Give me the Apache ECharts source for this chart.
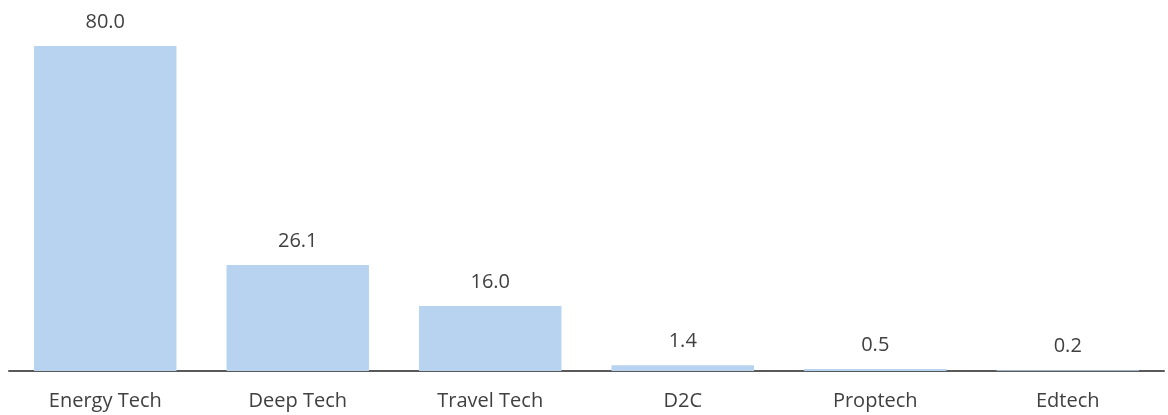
<!DOCTYPE html>
<html>
<head>
  <meta charset="utf-8" />
  <title>Funding by sector</title>
  <style>
    html, body { margin: 0; padding: 0; background: #fff; }
    #main { width: 1168px; height: 415px; }
  </style>
</head>
<body>
  <div id="main"></div>
  <script src="https://cdn.jsdelivr.net/npm/echarts@6/dist/echarts.min.js"></script>
  <script>
    var categories = ['Energy Tech', 'Deep Tech', 'Travel Tech', 'D2C', 'Proptech', 'Edtech'];
    var values = [80.0, 26.1, 16.0, 1.4, 0.5, 0.2];

    var chart = echarts.init(document.getElementById('main'));
    chart.setOption({
      animation: false,
      grid: { left: 9, right: 4, top: 46, bottom: 44 },
      xAxis: {
        type: 'category',
        data: categories,
        axisLine: { lineStyle: { color: '#595959', width: 2 } },
        axisTick: { show: false },
        axisLabel: {
          color: '#404040',
          fontSize: 20,
          fontFamily: 'Open Sans',
          margin: 20
        }
      },
      yAxis: {
        type: 'value',
        min: 0,
        max: 80,
        show: false,
        splitLine: { show: false }
      },
      series: [{
        type: 'bar',
        data: values,
        barWidth: '74%',
        itemStyle: { color: '#B7D3EF' },
        label: {
          show: true,
          position: 'top',
          distance: 14,
          color: '#404040',
          fontSize: 20,
          fontFamily: 'Open Sans',
          formatter: function (p) { return p.value.toFixed(1); }
        }
      }]
    });
  </script>
</body>
</html>
